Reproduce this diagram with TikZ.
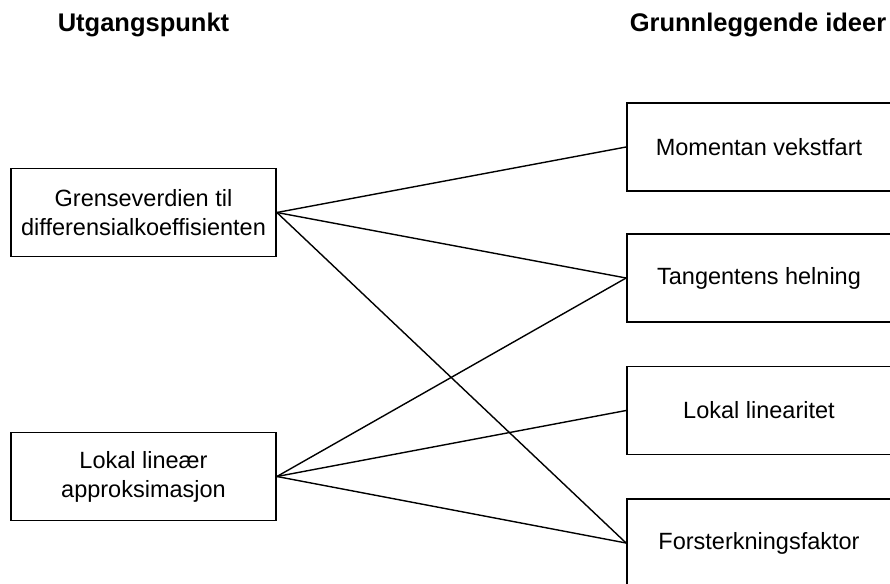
\documentclass[tikz,border=0pt]{standalone}
\usepackage{fontspec}
\setmainfont{Liberation Sans}

\begin{document}
\begin{tikzpicture}[x=1pt, y=-1pt,
    idebox/.style={draw, line width=1.8pt, minimum width=264pt, minimum height=88pt,
                   inner sep=0pt, align=center, font=\fontsize{23.5}{29}\selectfont},
    overskrift/.style={font=\fontsize{25.5}{30}\selectfont\bfseries},
    kobling/.style={line width=1.4pt}]
     \useasboundingbox (0,0) rectangle (890,583);
     %%%%%%%%%%%%%%%%%%%%%%%%%%%%%%%%%%%%%%%%%%%%%%
     %%% Column titles
     %%%%%%%%%%%%%%%%%%%%%%%%%%%%%%%%%%%%%%%%%%%%%%
     \node[overskrift] (tittelV) at (143.5,25) {Utgangspunkt};
     \node[overskrift] (tittelH) at (758,25) {Grunnleggende ideer};

     % Starting points (left column)
     \node[idebox, minimum width=265pt] (grense) at (143.5,212.5)
          {Grenseverdien til\\differensialkoeffisienten};
     \node[idebox, minimum width=265pt] (lokal) at (143.5,476.5)
          {Lokal lineær\\approksimasjon};

     % Basic ideas (right column), cut off at the page edge
     \node[idebox] (moment) at (759,147) {Momentan vekstfart};
     \node[idebox] (tangent) at (759,278) {Tangentens helning};
     \node[idebox] (linear) at (759,410.5) {Lokal linearitet};
     \node[idebox] (faktor) at (759,543) {Forsterkningsfaktor};

     % Links from the starting points to the ideas
     \foreach \mal in {moment,tangent,faktor}
          \draw[kobling] (grense.east) -- (\mal.west);
     \foreach \mal in {tangent,linear,faktor}
          \draw[kobling] (lokal.east) -- (\mal.west);
\end{tikzpicture}
\end{document}
